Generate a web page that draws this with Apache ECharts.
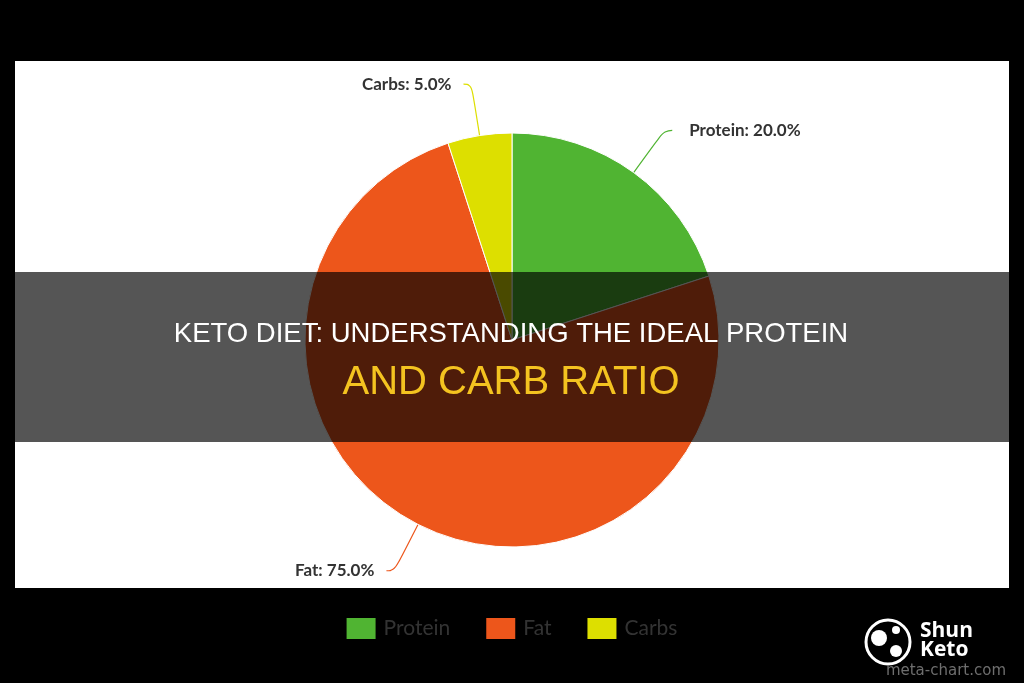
<!DOCTYPE html>
<html>
<head>
<meta charset="utf-8">
<style>
html,body{margin:0;padding:0;background:#000;}
#chart{width:1024px;height:683px;}
</style>
<script src="https://cdn.jsdelivr.net/npm/echarts@6/dist/echarts.min.js"></script>
</head>
<body>
<div id="chart"></div>
<script>
var categories = ['Protein', 'Fat', 'Carbs'];
var values = [20, 75, 5];
var colors = ['#50B432', '#ED561B', '#DDDF00'];
var titleLine1 = 'KETO DIET: UNDERSTANDING THE IDEAL PROTEIN';
var titleLine2 = 'AND CARB RATIO';

var chart = echarts.init(document.getElementById('chart'));
var data = categories.map(function (c, i) {
  var d = { name: c, value: values[i], itemStyle: { color: colors[i] }, labelLine: { lineStyle: { color: colors[i] } } };
  if (i === 0) d.label = { distanceToLabelLine: 17 };
  return d;
});

chart.setOption({
  backgroundColor: '#000',
  animation: false,
  legend: {
    data: categories,
    left: 'center',
    top: 613,
    icon: 'rect',
    itemWidth: 29,
    itemHeight: 21,
    itemGap: 36,
    itemStyle: { borderWidth: 0 },
    textStyle: { color: '#333', fontSize: 21, fontFamily: 'Lato', padding: [0, 0, 0, 3] }
  },
  graphic: [
    { type: 'rect', z: -10, shape: { x: 15, y: 61, width: 994, height: 527 }, style: { fill: '#fff' } },
    { type: 'rect', z: 100, shape: { x: 0, y: 272, width: 1024, height: 170 }, style: { fill: 'rgba(0,0,0,0.667)' } },
    { type: 'text', z: 101, x: 511, y: 334, style: { text: titleLine1, fill: '#fff', font: '27.5px "Liberation Sans", Arial, sans-serif', align: 'center', verticalAlign: 'middle' } },
    { type: 'text', z: 101, x: 511, y: 383, style: { text: titleLine2, fill: '#F4C320', font: '40px "Liberation Sans", Arial, sans-serif', align: 'center', verticalAlign: 'middle' } },
    { type: 'circle', z: 101, shape: { cx: 888, cy: 642, r: 22 }, style: { fill: 'none', stroke: '#fff', lineWidth: 3 } },
    { type: 'circle', z: 101, shape: { cx: 879, cy: 638, r: 8 }, style: { fill: '#fff' } },
    { type: 'circle', z: 101, shape: { cx: 896, cy: 651, r: 6 }, style: { fill: '#fff' } },
    { type: 'circle', z: 101, shape: { cx: 896, cy: 630, r: 4 }, style: { fill: '#fff' } },
    { type: 'text', z: 101, x: 920, y: 631, style: { text: 'Shun', fill: '#fff', font: 'bold 21px "Open Sans", sans-serif', align: 'left', verticalAlign: 'middle' } },
    { type: 'text', z: 101, x: 920, y: 650, style: { text: 'Keto', fill: '#fff', font: 'bold 21px "Open Sans", sans-serif', align: 'left', verticalAlign: 'middle' } },
    { type: 'text', z: 101, x: 1006, y: 671, style: { text: 'meta-chart.com', fill: '#6e6e6e', font: '15px "DejaVu Sans", sans-serif', align: 'right', verticalAlign: 'middle' } }
  ],
  series: [{
    type: 'pie',
    center: [512, 340],
    radius: 207,
    startAngle: 90,
    clockwise: true,
    data: data,
    itemStyle: { borderColor: '#fff', borderWidth: 1 },
    label: {
      show: true,
      color: '#333',
      fontFamily: 'Lato',
      fontWeight: 'bold',
      fontSize: 17,
      distanceToLabelLine: 12,
      formatter: function (p) { return p.name + ': ' + p.percent.toFixed(1) + '%'; }
    },
    labelLine: { show: true, length: 52, length2: 8, smooth: 0.5, lineStyle: { width: 1.2 } },
    emphasis: { disabled: true }
  }]
});
</script>
</body>
</html>
